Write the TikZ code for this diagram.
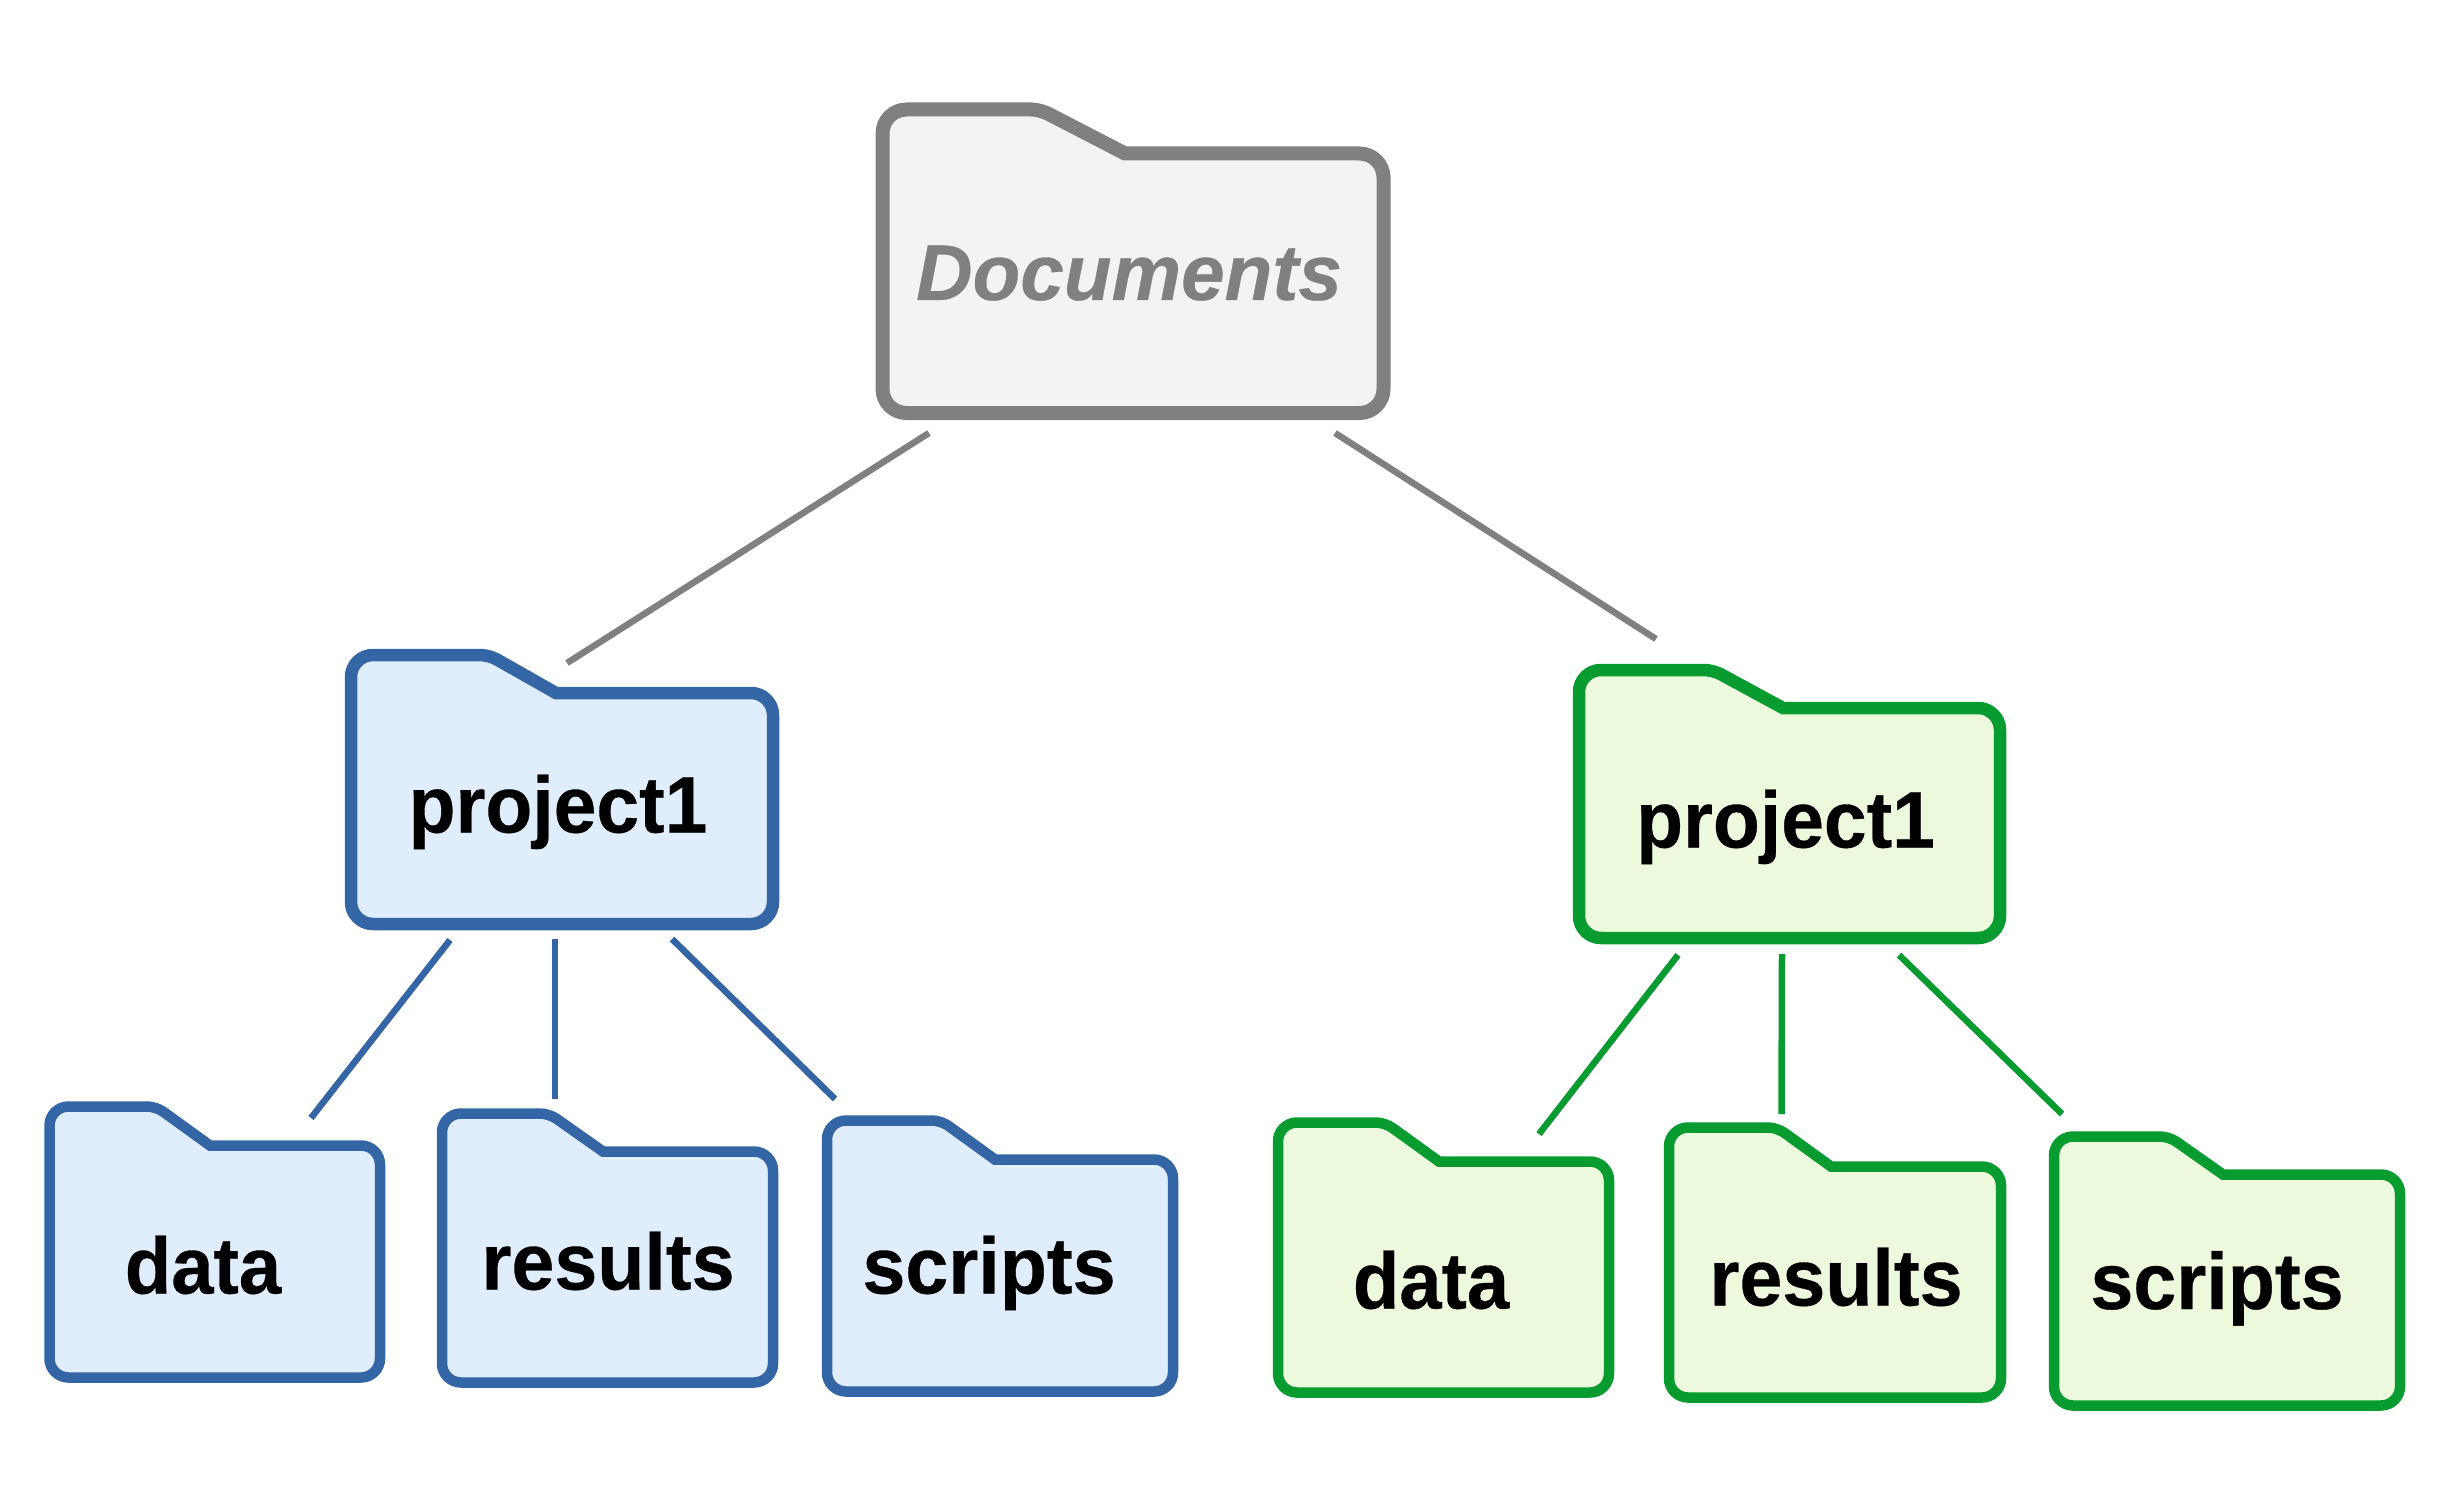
\documentclass[tikz,border=0pt]{standalone}
\usepackage{fontspec}
\setmainfont[BoldFeatures={FakeBold=0.4},BoldItalicFeatures={FakeBold=0.4}]{Liberation Sans}
\definecolor{grayline}{HTML}{808080}
\definecolor{grayfill}{HTML}{F3F3F3}
\definecolor{blueline}{HTML}{3465A5}
\definecolor{bluefill}{HTML}{DFEDFD}
\definecolor{greenline}{HTML}{089B30}
\definecolor{greenfill}{HTML}{ECF9DC}
\tikzset{
  grayfolder/.style={draw=grayline,fill=grayfill,line width=14pt,miter limit=10},
  bluebig/.style={draw=blueline,fill=bluefill,line width=12.5pt,miter limit=10},
  greenbig/.style={draw=greenline,fill=greenfill,line width=12.5pt,miter limit=10},
  bluesmall/.style={draw=blueline,fill=bluefill,line width=10.5pt,miter limit=10},
  greensmall/.style={draw=greenline,fill=greenfill,line width=10.5pt,miter limit=10},
  label/.style={inner sep=0pt,outer sep=0pt,anchor=base,text=black,font=\fontsize{80}{96}\selectfont\bfseries},
  grayconn/.style={draw=grayline,line width=6.5pt},
  blueconn/.style={draw=blueline,line width=6.5pt},
  greenconn/.style={draw=greenline,line width=6.5pt},
}
% style, left, right, top, bottom, shelf y, tab apex x, step x, radius
\newcommand{\folderbody}[9]{%
  \draw[#1] (#8,#6) [rounded corners=#9pt] -- (#3,#6) -- (#3,#5) -- (#2,#5) -- (#2,#4) [rounded corners=9pt] -- (#7,#4) [sharp corners] -- (#8,#6) -- cycle;
}
\newcommand{\sq}[1]{\scalebox{.965}[1]{#1}}
\begin{document}
\begin{tikzpicture}[x=1pt,y=-1pt]
\useasboundingbox (0,0) rectangle (2452,1503);
% folders
\folderbody{grayfolder}{882.5}{1383.5}{109.5}{413}{153.5}{1040}{1125}{24}
\folderbody{bluebig}{351}{773}{655}{924}{693}{489}{556}{22}
\folderbody{greenbig}{1579}{2000}{670}{938}{708}{1713}{1783}{22}
\folderbody{bluesmall}{49.5}{380}{1106.5}{1377.5}{1145.5}{156}{210}{19}
\folderbody{bluesmall}{442}{773}{1113.5}{1382.5}{1151.5}{549}{603}{19}
\folderbody{bluesmall}{827}{1173}{1120.5}{1391.5}{1159.5}{941}{995}{19}
\folderbody{greensmall}{1278}{1609}{1122.5}{1392.5}{1161.5}{1385}{1439}{19}
\folderbody{greensmall}{1669}{2001}{1127.5}{1397.5}{1166.5}{1777}{1831}{19}
\folderbody{greensmall}{2054}{2400}{1136.5}{1405.5}{1174.5}{2169}{2223}{19}
% labels
\node[label,text=grayline,font=\fontsize{79}{96}\selectfont\bfseries\itshape] (documents) at (1129,300) {\scalebox{.99}[1]{Documents}};
\node[label] (projA) at (558,832.5) {\scalebox{.96}[1]{project1}};
\node[label] (projB) at (1785.5,847.5) {\scalebox{.96}[1]{project1}};
\node[label] (dataA) at (203,1293.5) {\scalebox{.95}[1]{data}};
\node[label] (resultsA) at (608,1289.5) {\sq{results}};
\node[label] (scriptsA) at (989,1293.5) {\sq{scripts}};
\node[label] (dataB) at (1431,1308.5) {\scalebox{.95}[1]{data}};
\node[label] (resultsB) at (1836,1305.5) {\sq{results}};
\node[label] (scriptsB) at (2217,1309) {\sq{scripts}};
% connector ends
\coordinate (docL) at (929,433);
\coordinate (pAtop) at (567,663);
\coordinate (docR) at (1335,433);
\coordinate (pBtop) at (1656,639);
\coordinate (pAl) at (450,940);
\coordinate (dAt) at (311,1118);
\coordinate (pAm) at (555,939);
\coordinate (rAt) at (555,1099);
\coordinate (pAr) at (672,939);
\coordinate (sAt) at (835,1099);
\coordinate (pBl) at (1678,955);
\coordinate (dBt) at (1539,1134);
\coordinate (pBm) at (1782,954);
\coordinate (rBt) at (1781.5,1114);
\coordinate (pBr) at (1899,955);
\coordinate (sBt) at (2062,1114);
% connectors
\draw[grayconn] (docL) -- (pAtop);
\draw[grayconn] (docR) -- (pBtop);
\draw[blueconn] (pAl) -- (dAt);
\draw[blueconn] (pAm) -- (rAt);
\draw[blueconn] (pAr) -- (sAt);
\draw[greenconn] (pBl) -- (dBt);
\draw[greenconn] (pBm) -- (rBt);
\draw[greenconn] (pBr) -- (sBt);
\end{tikzpicture}
\end{document}
